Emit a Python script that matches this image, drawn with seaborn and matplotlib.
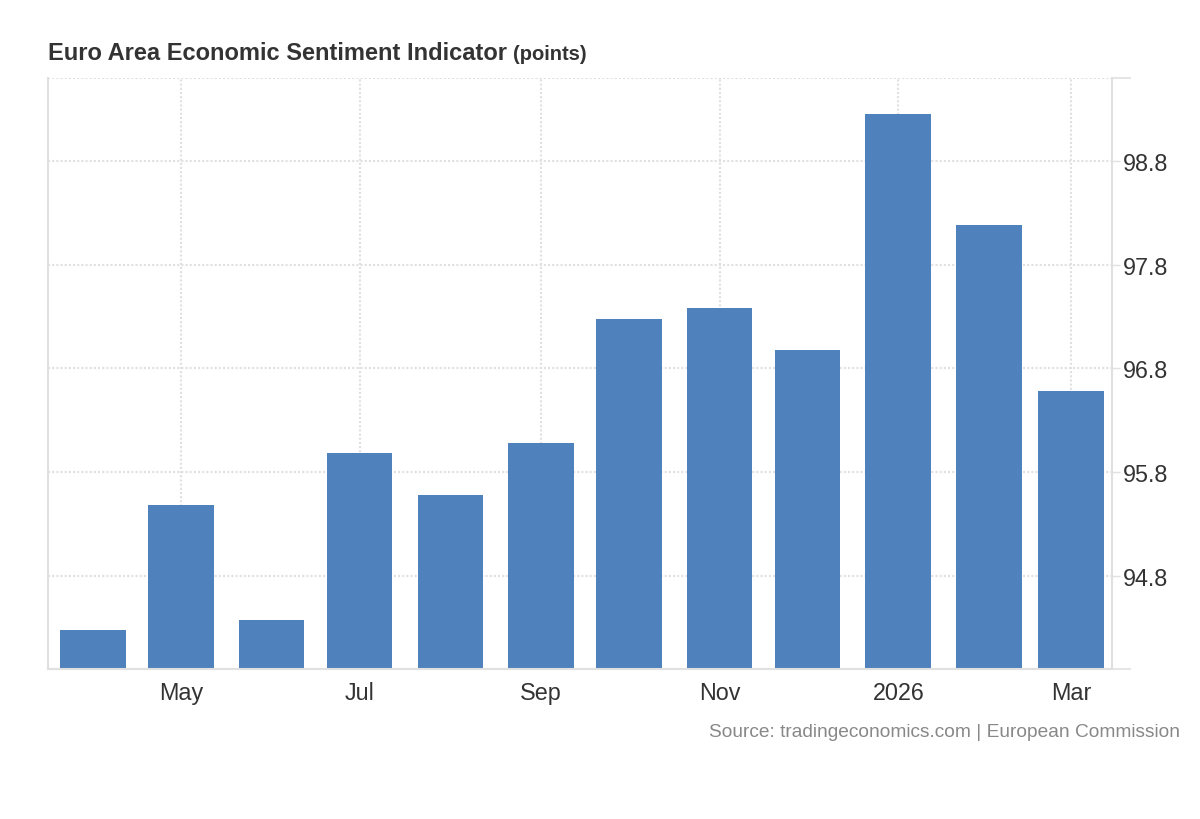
import pandas as pd
import seaborn as sns
import matplotlib.pyplot as plt

# monthly readings, Apr 2025 .. Mar 2026 (points)
values = [94.28, 95.48, 94.37, 95.98, 95.58, 96.08, 97.28, 97.38, 96.98, 99.25, 98.18, 96.58]
first_month = "2025-04-01"
tick_months = ["2025-05-01", "2025-07-01", "2025-09-01", "2025-11-01", "2026-01-01", "2026-03-01"]
tick_labels = ["May", "Jul", "Sep", "Nov", "2026", "Mar"]
y_ticks = [94.8, 95.8, 96.8, 97.8, 98.8]

dates = pd.date_range(first_month, periods=len(values), freq="MS")
start = dates[0]
df = pd.DataFrame({"day": (dates - start).days, "value": values})
tick_days = (pd.to_datetime(tick_months) - start).days

sns.set_theme(style="white")
plt.rcParams["font.family"] = ["Liberation Sans", "DejaVu Sans"]

grid_kw = dict(linestyle=(0, (1, 1)), color="#e0e0e0", linewidth=1.5)
edge = "#e0e0e0"

fig = plt.figure(figsize=(12, 8.2), dpi=100)
ax = fig.add_axes([48 / 1200, 150 / 820, 1064 / 1200, 591 / 820])

sns.barplot(data=df, x="day", y="value", native_scale=True, orient="x",
            color="#4f81bd", saturation=1, errorbar=None, width=0.8,
            linewidth=0, ax=ax)

ax.set_xlim(-15.4, 348)
ax.set_ylim(93.9, 99.6)
ax.set_xlabel("")
ax.set_ylabel("")
ax.set_axisbelow(True)

# y axis lives on the right
ax.yaxis.tick_right()
ax.set_yticks(y_ticks)
ax.set_yticklabels([f"{t:.1f}" for t in y_ticks])
ax.set_yticks([93.9, 99.6], minor=True)
ax.tick_params(axis="y", which="major", length=6, width=1, color=edge, pad=2,
               labelsize=16.8, labelcolor="#333333")
ax.tick_params(axis="y", which="minor", length=14, width=1.2, color=edge)

ax.set_xticks(tick_days, tick_labels)
ax.tick_params(axis="x", length=0, pad=9, labelsize=16.8, labelcolor="#333333")

ax.grid(True, which="major", axis="both", **grid_kw)
ax.grid(True, which="minor", axis="y", **grid_kw)

ax.spines["top"].set_visible(False)
for side in ["left", "right", "bottom"]:
    ax.spines[side].set_color(edge)
    ax.spines[side].set_linewidth(1.5)

title = fig.text(48 / 1200, 1 - 53 / 820, "Euro Area Economic Sentiment Indicator",
                 fontsize=17, fontweight="bold", color="#333333", va="center")
ax.annotate("(points)", xy=(1, 0), xycoords=title, xytext=(4, 0), textcoords="offset points",
            fontsize=14.5, fontweight="bold", color="#333333", va="bottom", ha="left",
            annotation_clip=False)

fig.text(1180 / 1200, 1 - 733 / 820, "Source: tradingeconomics.com | European Commission",
         fontsize=13.8, color="#888888", ha="right", va="center")

fig.savefig("out.png", dpi=100)
